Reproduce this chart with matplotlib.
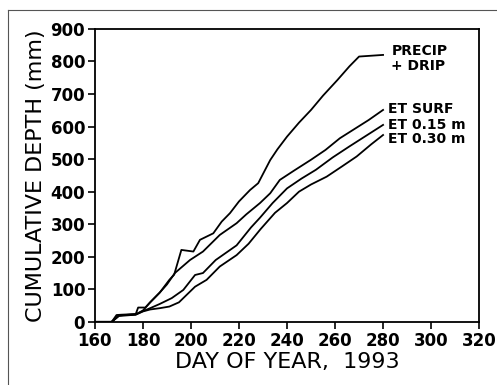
import matplotlib
matplotlib.use("Agg")
import matplotlib.pyplot as plt
from matplotlib import font_manager
from matplotlib.lines import Line2D

# ---------- data ----------
precip_day = [160, 167, 169, 171, 177, 178, 181, 183, 187, 191, 193, 196, 201, 203.75,
              209.3, 212.8, 216.25, 220, 224.6, 228, 233, 236, 240, 245, 250, 255, 261,
              266, 270, 280]
precip_mm = [0, 0, 21, 22, 24, 44, 44, 60, 90, 129, 145, 221, 216, 252,
             272, 308, 334, 370, 405, 426, 497, 530, 569, 612, 651, 695, 743,
             785, 815, 820]

surf_day = [160, 167, 170, 177, 180, 183, 187, 190, 193.3, 199.6, 205, 212,
            219, 223, 228.75, 233, 237, 243, 250, 256, 262, 268, 274, 280]
surf_mm = [0, 0, 20, 23, 35, 60, 90, 115, 150, 190, 216, 267,
           303, 330, 365, 395, 436, 465, 498, 528, 564, 592, 620, 651]

et15_day = [160, 167, 170, 177, 180, 183, 187, 192, 196.8, 201.7, 205, 210.3, 219,
            225, 228.75, 234, 240, 246, 252, 259, 266, 273, 280]
et15_mm = [0, 0, 20, 23, 33, 42, 55, 73, 98, 144, 150, 190, 235,
           290, 320, 365, 410, 440, 467, 505, 539, 572, 605]

et30_day = [160, 167, 170, 177, 180, 183, 187, 191, 195, 201.7, 206.5, 212, 219,
            224, 229, 235, 240, 245, 250, 256.5, 263, 269, 275, 280]
et30_mm = [0, 0, 18, 22, 32, 38, 42, 47, 60, 108, 129, 170, 205,
           240, 285, 335, 365, 400, 422, 446, 478, 508, 545, 574]

x_ticks = [160, 180, 200, 220, 240, 260, 280, 300, 320]
y_ticks = [0, 100, 200, 300, 400, 500, 600, 700, 800, 900]

# ---------- figure ----------
fig = plt.figure(figsize=(4.97, 3.85), dpi=100)
ax = fig.add_axes([0.191, 0.164, 0.773, 0.761])

for d, v in [(precip_day, precip_mm), (surf_day, surf_mm),
             (et15_day, et15_mm), (et30_day, et30_mm)]:
    ax.plot(d, v, color="black", lw=1.3)

ax.set_xlim(160, 320)
ax.set_ylim(0, 900)
ax.set_xticks(x_ticks)
ax.set_yticks(y_ticks)
ax.tick_params(direction="out", length=5, width=1.2, pad=2, labelsize=12)
for lab in ax.get_xticklabels() + ax.get_yticklabels():
    lab.set_fontweight("bold")
for s in ax.spines.values():
    s.set_linewidth(1.3)

ax.set_xlabel("DAY OF YEAR,  1993", fontsize=16, labelpad=2)
ax.set_ylabel("CUMULATIVE DEPTH (mm)", fontsize=16, labelpad=3)

# narrow face for the curve labels if there is one
try:
    font_manager.findfont("Liberation Sans Narrow", fallback_to_default=False)
    narrow = "Liberation Sans Narrow"
except ValueError:
    narrow = "DejaVu Sans"

lab_font = dict(fontsize=10, fontweight="bold", ha="left", va="center", family=narrow)
ax.text(283.5, 831, "PRECIP", **lab_font)
ax.text(283.5, 785, "+ DRIP", **lab_font)
ax.text(282, 654, "ET SURF", **lab_font)
ax.text(282, 604, "ET 0.15 m", **lab_font)
ax.text(282, 563, "ET 0.30 m", **lab_font)

# scanned page frame
fig.add_artist(Line2D([8 / 497, 1], [1 - 10 / 385, 1 - 10 / 385],
                      transform=fig.transFigure, color="#555555", lw=0.8))
fig.add_artist(Line2D([8 / 497, 8 / 497], [0, 1 - 10 / 385],
                      transform=fig.transFigure, color="#555555", lw=0.8))

fig.savefig("out.png", dpi=100)
